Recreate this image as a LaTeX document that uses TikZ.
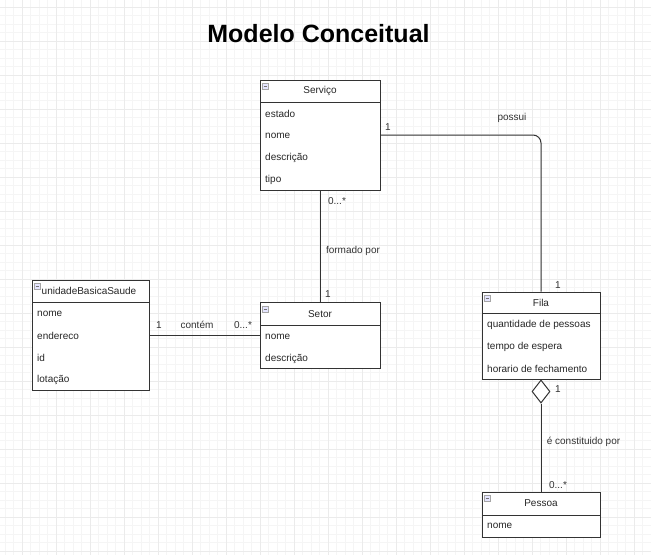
\documentclass[tikz,border=0pt]{standalone}
\usepackage{fontspec}
\setmainfont{Liberation Sans}
\usetikzlibrary{shapes.geometric,positioning,calc}

\tikzset{
    classbox/.style={draw=black!80, line width=1pt, fill=white, inner sep=0pt},
    header/.style={font=\fontsize{10}{12}\selectfont, text=black!85},
    attr/.style={anchor=west, font=\fontsize{10}{12}\selectfont, text=black!85, inner sep=0pt},
    lbl/.style={font=\fontsize{10}{12}\selectfont, text=black!80, inner sep=0pt},
    assoc/.style={draw=black!80, line width=1pt},
    icon/.style={draw=black!35, fill=blue!10, minimum size=6pt, inner sep=0pt,
        path picture={\draw[black!55] ([xshift=1.5pt]path picture bounding box.west) -- ([xshift=-1.5pt]path picture bounding box.east);}},
    aggregation/.style={diamond, draw=black!80, line width=1pt, fill=white, inner sep=0pt,
        minimum width=18pt, minimum height=23pt},
    gridminor/.style={black!4, line width=0.6pt},
    gridmajor/.style={black!8, line width=0.8pt}
}

\begin{document}
\begin{tikzpicture}[x=1pt, y=-1pt]
    \useasboundingbox (0,0) rectangle (651,555);
    \fill[white] (0,0) rectangle (651,555);

    % grid
    \foreach \i in {0,...,76} \draw[gridminor] ({5+8.5*\i},0) -- ({5+8.5*\i},555);
    \foreach \j in {0,...,64} \draw[gridminor] (0,{7+8.5*\j}) -- (651,{7+8.5*\j});
    \foreach \i in {0,...,18} \draw[gridmajor] ({22+34*\i},0) -- ({22+34*\i},555);
    \foreach \j in {0,...,16} \draw[gridmajor] (0,{7+34*\j}) -- (651,{7+34*\j});

    % Title
    \node[font=\fontsize{25}{30}\selectfont\bfseries] (titulo) at (318.5,34) {Modelo Conceitual};

    % Servico
    \node[classbox, minimum width=120pt, minimum height=110pt] (servico) at (320,135) {};
    \draw[assoc] (260,102) -- (380,102);
    \node[icon] (servicoI) at (265,86) {};
    \node[header] (servicoT) at (320,91) {Serviço};
    \foreach \txt [count=\i] in {estado,nome,descrição,tipo}
        \node[attr] (servicoA\i) at (265,{92+22*\i}) {\txt};

    % unidadeBasicaSaude
    \node[classbox, minimum width=117pt, minimum height=110pt] (ubs) at (90.5,335) {};
    \draw[assoc] (32,302) -- (149,302);
    \node[icon] (ubsI) at (37,286) {};
    \node[header] (ubsT) at (89,291) {unidadeBasicaSaude};
    \foreach \txt [count=\i] in {nome,endereco,id,lotação}
        \node[attr] (ubsA\i) at (37,{292+22*\i}) {\txt};

    % Setor
    \node[classbox, minimum width=120pt, minimum height=66pt] (setor) at (320,335) {};
    \draw[assoc] (260,325) -- (380,325);
    \node[icon] (setorI) at (265,309) {};
    \node[header] (setorT) at (320,314) {Setor};
    \foreach \txt [count=\i] in {nome,descrição}
        \node[attr] (setorA\i) at (265,{315+22*\i}) {\txt};

    % Fila
    \node[classbox, minimum width=118pt, minimum height=87pt] (fila) at (541,335.5) {};
    \draw[assoc] (482,313) -- (600,313);
    \node[icon] (filaI) at (487,298) {};
    \node[header] (filaT) at (541,302.5) {Fila};
    \foreach \txt [count=\i] in {quantidade de pessoas,tempo de espera,horario de fechamento}
        \node[attr] (filaA\i) at (487,{302.5+22*\i}) {\txt};

    % Pessoa
    \node[classbox, minimum width=118pt, minimum height=45pt] (pessoa) at (541,514.5) {};
    \draw[assoc] (482,515) -- (600,515);
    \node[icon] (pessoaI) at (487,498) {};
    \node[header] (pessoaT) at (541,503.5) {Pessoa};
    \node[attr] (pessoaA1) at (487,526) {nome};

    % connectors
    \draw[assoc, rounded corners=8pt] (servico.east) -| (fila.north);
    \draw[assoc] (servico.south) -- (setor.north);
    \draw[assoc] (ubs.east) -- (setor.west);
    \node[aggregation, anchor=north] (filaAgg) at (fila.south) {};
    \draw[assoc] (filaAgg.south) -- (pessoa.north);

    % labels
    \node[lbl] (possuiA) at (388,127) {1};
    \node[lbl] (possui) at (512,118) {possui};
    \node[lbl] (possuiB) at (558,285) {1};
    \node[lbl] (formadoA) at (337,201) {0...*};
    \node[lbl] (formado) at (353,251) {formado por};
    \node[lbl] (formadoB) at (328,294) {1};
    \node[lbl] (contemA) at (159,325) {1};
    \node[lbl] (contem) at (197,325) {contém};
    \node[lbl] (contemB) at (243,325) {0...*};
    \node[lbl] (constA) at (558,389) {1};
    \node[lbl] (const) at (583.5,442) {é constituido por};
    \node[lbl] (constB) at (558,485) {0...*};
\end{tikzpicture}
\end{document}
